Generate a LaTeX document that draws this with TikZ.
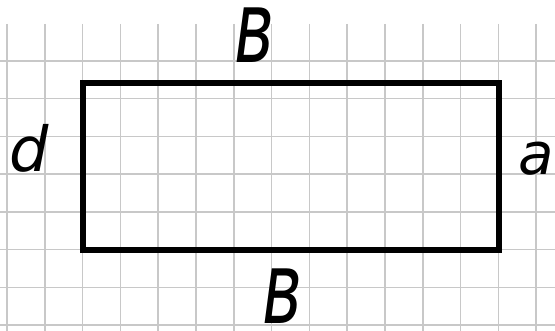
\documentclass[tikz,border=0pt]{standalone}
\usepackage{fontspec}
\newfontfamily\handfont{DejaVu Sans Oblique}
\newfontfamily\tallhand[FakeStretch=0.68]{DejaVu Sans Oblique}
\begin{document}
\begin{tikzpicture}[x=1pt,y=-1pt,
  gridline/.style={draw=gridgray,line width=1.5pt},
  sidebox/.style={draw=black,line width=6pt,inner sep=0pt,outer sep=0pt},
  sidelabel/.style={inner sep=0pt,font=\handfont\fontsize{58}{58}\selectfont},
  bigletter/.style={inner sep=0pt,font=\tallhand\fontsize{100}{100}\selectfont}]
\definecolor{gridgray}{RGB}{200,200,200}
\useasboundingbox[fill=white] (0,0) rectangle (555,331);
\foreach \k in {0,...,14} {\draw[gridline] ({7+37.8*\k},24) -- ({7+37.8*\k},331);}
\foreach \k in {0,...,7} {\draw[gridline] (0,{61+37.75*\k}) -- (555,{61+37.75*\k});}
\node[sidebox,minimum width=416pt,minimum height=167pt] (rect) at (291,166.5) {};
\node[bigletter] (top) at (255,35) {в};
\node[bigletter] (bottom) at (283,296) {в};
\node[sidelabel,font=\handfont\fontsize{62}{62}\selectfont] (left) at (29,148) {d};
\node[sidelabel] (right) at (536,159) {a};
\end{tikzpicture}
\end{document}
